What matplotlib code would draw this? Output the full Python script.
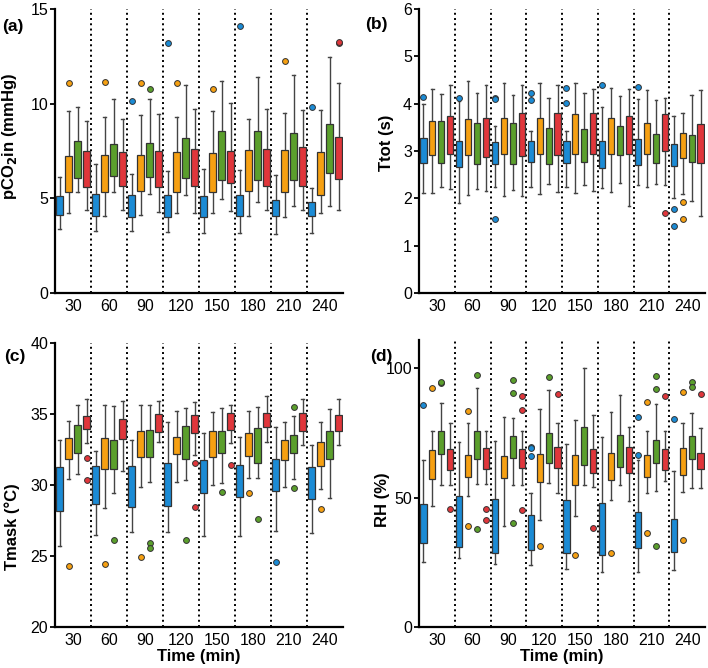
import matplotlib
matplotlib.use("Agg")
import matplotlib.pyplot as plt
import numpy as np

plt.rcParams['font.family'] = ['Liberation Sans', 'DejaVu Sans']

times = [30, 60, 90, 120, 150, 180, 210, 240]
# box order inside each time point: blue, orange, green, red
colors = ['#1b8bd5', '#f6a012', '#5b9f2c', '#e0363b']

# (a) pCO2in, rows = time, cols = box
a_lo = [[3.37, 4.22, 5.31, 4.36], [3.30, 4.08, 5.36, 4.36], [3.30, 4.13, 5.24, 4.27], [3.22, 4.25, 5.18, 4.22],
        [3.16, 4.22, 4.99, 4.31], [3.16, 4.08, 4.78, 4.39], [3.11, 4.01, 4.62, 4.36], [3.16, 4.22, 4.57, 4.39]]
a_q1 = [[4.13, 5.36, 6.08, 5.62], [4.08, 5.36, 6.20, 5.66], [4.01, 5.40, 6.12, 5.62], [4.01, 5.31, 6.05, 5.66],
        [4.04, 5.34, 5.98, 5.83], [4.08, 5.41, 5.98, 5.66], [4.08, 5.31, 5.98, 5.66], [4.08, 5.15, 6.33, 6.01]]
a_med = [[4.53, 6.29, 6.98, 6.98], [4.50, 6.29, 7.03, 6.85], [4.53, 6.33, 6.98, 6.91], [4.50, 6.33, 7.07, 6.98],
         [4.43, 6.50, 7.28, 6.98], [4.36, 6.41, 7.33, 6.85], [4.32, 6.41, 7.36, 6.85], [4.32, 6.54, 7.33, 6.77]]
a_q3 = [[5.10, 7.26, 8.01, 7.52], [5.22, 7.29, 7.87, 7.47], [5.18, 7.31, 7.91, 7.50], [5.18, 7.43, 8.19, 7.61],
        [5.13, 7.38, 8.58, 7.52], [5.18, 7.56, 8.58, 7.59], [4.92, 7.56, 8.47, 7.70], [4.83, 7.47, 8.93, 8.26]]
a_hi = [[6.12, 9.60, 9.84, 9.10], [6.82, 9.31, 10.26, 9.21], [6.29, 9.42, 10.23, 9.46], [6.43, 9.28, 11.00, 9.70],
        [6.54, 9.60, 11.18, 10.02], [6.50, 9.21, 11.39, 9.74], [6.22, 9.49, 11.53, 9.67], [5.52, 9.67, 12.44, 11.11]]
a_fliers = [(0, 1, 11.10), (1, 1, 11.14), (2, 0, 10.12), (2, 1, 11.11), (2, 2, 10.76), (3, 0, 13.22),
            (3, 1, 11.11), (4, 1, 10.76), (5, 0, 14.10), (6, 1, 12.23), (7, 0, 9.81), (7, 3, 13.18), (7, 3, 13.27)]

# (b) Ttot
b_lo = [[2.11, 2.11, 2.25, 2.19], [1.91, 2.08, 2.20, 2.16], [2.23, 2.05, 2.18, 2.05], [2.25, 2.10, 2.31, 2.14],
        [2.25, 2.12, 2.28, 2.15], [2.21, 2.14, 2.32, 1.84], [2.29, 2.24, 2.31, 2.28], [2.01, 2.10, 1.94, 1.62]]
b_q1 = [[2.74, 2.91, 2.74, 2.93], [2.66, 2.92, 2.73, 2.88], [2.73, 2.93, 2.73, 2.90], [2.77, 2.93, 2.73, 2.91],
        [2.74, 2.94, 2.77, 2.94], [2.64, 2.94, 2.91, 2.93], [2.70, 2.93, 2.74, 3.00], [2.69, 2.86, 2.76, 2.74]]
b_med = [[3.00, 3.15, 3.11, 3.25], [2.94, 3.11, 3.09, 3.25], [2.95, 3.15, 3.09, 3.31], [2.91, 3.15, 3.12, 3.35],
         [2.98, 3.21, 3.09, 3.38], [2.91, 3.22, 3.12, 3.36], [2.95, 3.21, 3.15, 3.25], [2.92, 3.15, 3.01, 3.20]]
b_q3 = [[3.28, 3.64, 3.64, 3.74], [3.21, 3.67, 3.60, 3.69], [3.20, 3.70, 3.59, 3.80], [3.21, 3.70, 3.49, 3.80],
        [3.22, 3.78, 3.47, 3.81], [3.21, 3.70, 3.52, 3.74], [3.25, 3.60, 3.35, 3.78], [3.14, 3.38, 3.33, 3.56]]
b_hi = [[3.99, 4.30, 4.21, 4.40], [4.06, 4.47, 4.22, 4.39], [3.53, 4.44, 4.18, 4.39], [3.43, 4.44, 4.13, 4.39],
        [3.42, 4.43, 4.23, 4.30], [3.94, 4.33, 4.16, 4.30], [4.09, 4.28, 4.08, 4.11], [3.74, 3.81, 4.18, 4.28]]
b_fliers = [(0, 0, 4.15), (1, 0, 4.13), (2, 0, 4.13), (2, 0, 4.09), (2, 0, 1.56), (3, 0, 4.23), (3, 0, 4.08),
            (4, 0, 4.33), (4, 0, 4.02), (5, 0, 4.40), (6, 0, 4.36), (6, 3, 1.69), (7, 0, 1.77), (7, 0, 1.42),
            (7, 1, 1.93), (7, 1, 1.56)]

# (c) Tmask
c_lo = [[25.73, 30.42, 30.80, 32.94], [26.50, 28.40, 29.42, 31.00], [26.69, 29.88, 30.21, 33.05],
        [26.69, 30.23, 30.35, 32.11], [26.41, 30.00, 30.12, 32.94], [26.41, 30.49, 30.49, 33.03],
        [26.78, 29.88, 30.40, 32.82], [26.60, 29.70, 29.11, 32.82]]
c_q1 = [[28.19, 31.85, 32.23, 33.92], [28.64, 31.15, 31.13, 33.22], [28.47, 31.95, 31.95, 33.71],
        [28.54, 32.18, 31.81, 33.66], [29.42, 31.95, 32.23, 33.87], [29.13, 32.04, 31.55, 34.06],
        [29.56, 31.74, 32.27, 33.82], [28.99, 31.32, 31.83, 33.82]]
c_med = [[30.02, 32.54, 33.17, 34.34], [29.83, 32.23, 32.51, 33.92], [30.04, 32.23, 32.42, 34.30],
         [30.40, 32.70, 32.79, 34.44], [30.59, 32.61, 32.82, 34.62], [30.19, 32.75, 33.15, 34.44],
         [30.40, 32.37, 32.94, 34.77], [30.05, 32.23, 32.70, 34.48]]
c_q3 = [[31.25, 33.29, 34.25, 34.86], [31.32, 33.29, 33.19, 34.65], [31.36, 33.78, 33.87, 35.00],
        [31.53, 33.40, 34.15, 34.93], [31.76, 33.78, 33.78, 35.09], [31.39, 33.69, 34.00, 35.05],
        [31.85, 33.19, 33.50, 35.09], [31.25, 33.00, 33.80, 34.95]]
c_hi = [[33.20, 34.53, 35.66, 36.03], [32.42, 35.66, 35.56, 35.94], [33.20, 35.66, 35.66, 35.94],
        [34.44, 35.19, 35.42, 35.82], [33.64, 35.12, 35.42, 35.66], [33.36, 35.24, 35.51, 36.27],
        [34.11, 34.44, 34.86, 36.03], [32.84, 34.44, 35.33, 36.03]]
c_fliers = [(0, 1, 24.27), (0, 3, 31.92), (0, 3, 30.35), (1, 1, 24.44), (1, 2, 26.10), (2, 1, 24.91),
            (2, 2, 25.89), (2, 2, 25.58), (3, 2, 26.10), (3, 3, 31.53), (3, 3, 28.43), (4, 2, 29.51),
            (4, 3, 31.41), (5, 1, 29.41), (5, 2, 27.63), (6, 0, 24.60), (6, 2, 35.51), (6, 2, 29.81),
            (7, 1, 28.33)]

# (d) RH
d_lo = [[25.1, 46.8, 54.9, 54.9], [26.8, 50.7, 55.3, 55.3], [24.4, 39.2, 54.9, 55.1], [24.0, 41.2, 55.8, 51.7],
        [22.4, 43.0, 54.8, 54.3], [21.4, 49.2, 54.8, 48.6], [21.4, 52.0, 52.5, 56.4], [22.1, 52.4, 53.8, 53.8]]
d_q1 = [[32.4, 57.1, 66.9, 60.7], [31.1, 57.9, 65.1, 61.0], [28.6, 57.5, 65.4, 61.4], [29.6, 56.0, 63.6, 61.4],
        [28.8, 54.8, 62.5, 59.7], [27.9, 56.9, 62.0, 59.5], [30.5, 58.1, 63.6, 60.7], [29.0, 58.9, 65.1, 61.0]]
d_med = [[39.9, 63.3, 71.7, 64.9], [39.1, 62.3, 69.5, 64.9], [38.8, 61.9, 68.5, 64.9], [36.3, 64.6, 69.2, 65.6],
         [37.1, 63.8, 70.3, 63.6], [36.5, 63.1, 68.7, 63.3], [35.8, 63.6, 68.5, 64.9], [36.5, 64.9, 69.0, 65.1]]
d_q3 = [[47.6, 68.5, 75.8, 69.0], [50.7, 66.6, 75.8, 69.2], [49.4, 66.1, 74.0, 69.0], [43.5, 66.9, 74.9, 69.7],
        [49.0, 66.6, 77.2, 69.0], [48.1, 67.4, 74.1, 69.5], [44.5, 66.6, 72.3, 68.7], [41.8, 69.1, 73.9, 67.4]]
d_hi = [[64.6, 75.7, 86.5, 78.8], [71.5, 78.8, 92.4, 75.9], [72.0, 81.1, 80.8, 75.7], [51.7, 84.3, 91.6, 78.8],
        [70.8, 80.0, 100.1, 82.1], [73.4, 83.1, 89.7, 77.5], [64.5, 75.7, 86.2, 75.7], [60.2, 78.8, 82.6, 76.8]]
d_fliers = [(0, 0, 85.7), (0, 1, 92.5), (0, 2, 94.2), (0, 2, 94.6), (0, 3, 45.7), (1, 1, 83.4), (1, 1, 39.2),
            (1, 2, 97.3), (1, 2, 37.8), (1, 3, 45.8), (1, 3, 41.4), (2, 2, 95.7), (2, 2, 90.6), (2, 2, 40.4),
            (2, 3, 89.3), (2, 3, 83.9), (2, 3, 45.3), (3, 0, 69.6), (3, 0, 69.2), (3, 0, 66.0), (3, 1, 31.5),
            (3, 2, 96.8), (3, 3, 90.1), (4, 1, 27.9), (4, 3, 38.1), (5, 1, 28.8), (6, 0, 81.1), (6, 0, 66.5),
            (6, 1, 86.9), (6, 1, 36.5), (6, 2, 97.0), (6, 2, 91.9), (6, 2, 31.5), (6, 3, 89.4), (7, 0, 80.3),
            (7, 1, 90.9), (7, 1, 33.7), (7, 2, 94.7), (7, 2, 92.9), (7, 3, 90.1)]

offsets = [-0.375, -0.125, 0.125, 0.375]


def draw_panel(ax, lo, q1, med, q3, hi, fliers, ylim, yticks, ylabel, show_xlabel):
    stats, pos, cols = [], [], []
    for i in range(len(times)):
        for j in range(4):
            fl = [v for (ti, gj, v) in fliers if ti == i and gj == j]
            stats.append(dict(whislo=lo[i][j], q1=q1[i][j], med=med[i][j], q3=q3[i][j],
                              whishi=hi[i][j], fliers=fl))
            pos.append(i + offsets[j])
            cols.append(colors[j])
    # dotted separators between time points
    for k in range(len(times) - 1):
        ax.axvline(k + 0.5, color='black', lw=1.4, ls=(0, (1, 1.7)), zorder=1)
    out = ax.bxp(stats, positions=pos, widths=0.17, patch_artist=True, capwidths=0.07,
                 manage_ticks=False,
                 boxprops=dict(edgecolor='#333333', linewidth=0.9),
                 whiskerprops=dict(color='#444444', linewidth=1.0),
                 capprops=dict(color='#444444', linewidth=1.0),
                 medianprops=dict(color='black', linewidth=1.0),
                 flierprops=dict(marker='o', markersize=4.2, markeredgecolor='#333333',
                                 markeredgewidth=0.7, linestyle='none'))
    for patch, c in zip(out['boxes'], cols):
        patch.set_facecolor(c)
        patch.set_zorder(3)
    for fl, c in zip(out['fliers'], cols):
        fl.set_markerfacecolor(c)

    ax.set_xlim(-0.5, len(times) - 0.5)
    ax.set_ylim(*ylim)
    ax.set_yticks(yticks)
    ax.set_xticks(range(len(times)))
    ax.set_xticklabels([str(t) for t in times])
    ax.tick_params(axis='x', length=0, pad=4, labelsize=11.5)
    ax.tick_params(axis='y', length=3.5, width=1.3, pad=1.5, labelsize=11.5)
    for s in ['top', 'right']:
        ax.spines[s].set_visible(False)
    for s in ['left', 'bottom']:
        ax.spines[s].set_linewidth(1.6)
    ax.set_ylabel(ylabel, fontsize=12, fontweight='bold')
    if show_xlabel:
        ax.set_xlabel('Time (min)', fontsize=12, fontweight='bold', labelpad=1)


fig = plt.figure(figsize=(7.08, 6.68), dpi=100)
W, H = 708, 668


def add_axes(left, top, right, bottom):
    return fig.add_axes([left / W, 1 - bottom / H, (right - left) / W, (bottom - top) / H])


ax_a = add_axes(55, 9, 343, 293)
ax_b = add_axes(419, 9, 705, 293)
ax_c = add_axes(55, 343, 343, 627)
ax_d = add_axes(419, 340, 705, 627)

draw_panel(ax_a, a_lo, a_q1, a_med, a_q3, a_hi, a_fliers, (0, 15), [0, 5, 10, 15],
           r'pCO$_\mathbf{2}$in (mmHg)', False)
draw_panel(ax_b, b_lo, b_q1, b_med, b_q3, b_hi, b_fliers, (0, 6), [0, 1, 2, 3, 4, 5, 6],
           'Ttot (s)', False)
draw_panel(ax_c, c_lo, c_q1, c_med, c_q3, c_hi, c_fliers, (20, 40), [20, 25, 30, 35, 40],
           'Tmask (°C)', True)
draw_panel(ax_d, d_lo, d_q1, d_med, d_q3, d_hi, d_fliers, (0, 111), [0, 50, 100],
           'RH (%)', True)

ax_a.yaxis.set_label_coords(-0.125, 0.553)
ax_b.yaxis.set_label_coords(-0.087, 0.528)
ax_c.yaxis.set_label_coords(-0.12, 0.352)
ax_d.yaxis.set_label_coords(-0.1, 0.444)

fig.text(13 / W, 1 - 26 / H, '(a)', fontsize=12.5, fontweight='bold', ha='center', va='center')
fig.text(376 / W, 1 - 24 / H, '(b)', fontsize=12.5, fontweight='bold', ha='center', va='center')
fig.text(15 / W, 1 - 357 / H, '(c)', fontsize=12.5, fontweight='bold', ha='center', va='center')
fig.text(381 / W, 1 - 356 / H, '(d)', fontsize=12.5, fontweight='bold', ha='center', va='center')

fig.savefig('out.png', dpi=100)
